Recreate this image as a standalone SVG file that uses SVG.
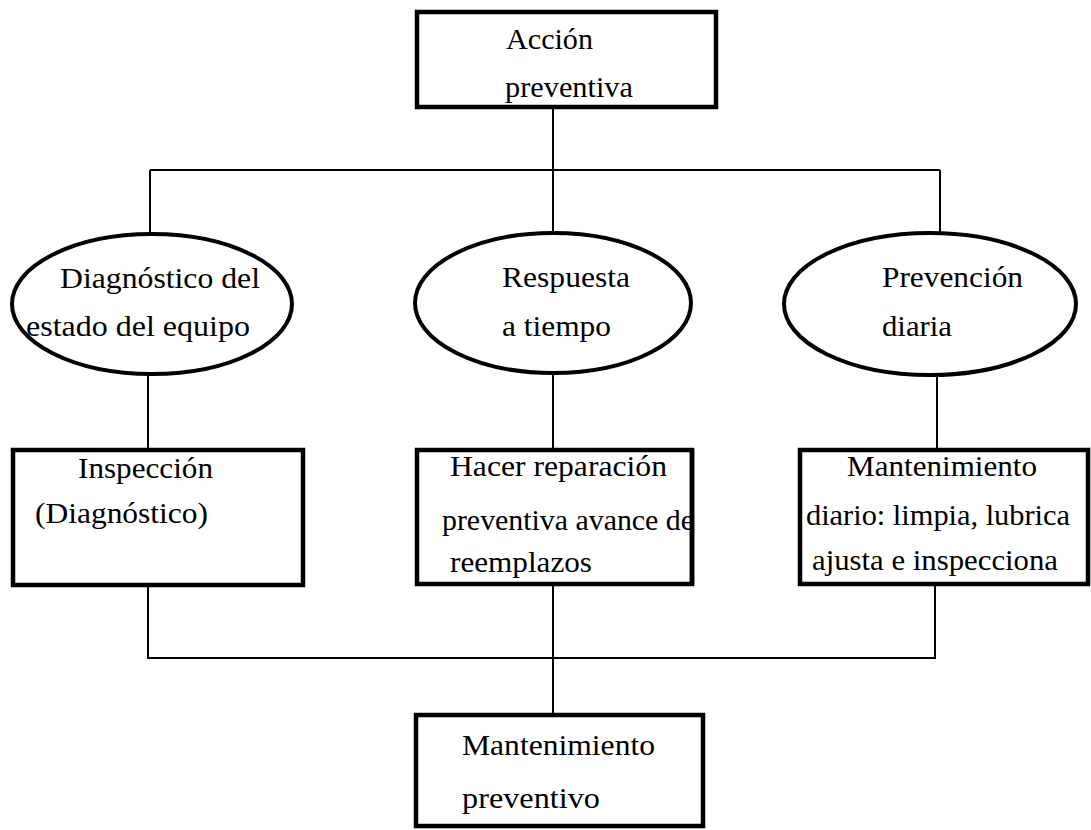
<svg xmlns="http://www.w3.org/2000/svg" width="1091" height="830" viewBox="0 0 1091 830">
  <style>
    .box { fill: #fff; stroke: #000; stroke-width: 4.5; }
    .oval { fill: #fff; stroke: #000; stroke-width: 4; }
    .wire { fill: none; stroke: #000; stroke-width: 2; }
    .edge { fill: none; stroke: #000; stroke-width: 4.5; }
    text { font-family: "Liberation Serif", "Times New Roman", serif; font-size: 30px; fill: #000; }
  </style>
  <rect width="1091" height="830" fill="#fff"/>

  <!-- connectors -->
  <g id="connectors">
    <path class="wire" d="M553,107 V170 M150,170 H940 M150,170 V234 M553,170 V233 M940,170 V234"/>
    <path class="wire" d="M148,374 V450 M553,373 V450 M937,375 V450"/>
    <path class="wire" d="M148,585 V658 H935 V584 M553,584 V715"/>
  </g>

  <!-- top action -->
  <g id="accion-preventiva">
    <rect class="box" x="417" y="12" width="299" height="95"/>
    <text x="506" y="49" textLength="87" lengthAdjust="spacingAndGlyphs">Acción</text>
    <text x="505" y="97" textLength="128" lengthAdjust="spacingAndGlyphs">preventiva</text>
  </g>

  <!-- approaches -->
  <g id="diagnostico-estado">
    <ellipse class="oval" cx="152" cy="304" rx="140" ry="70"/>
    <text x="60" y="288" textLength="200" lengthAdjust="spacingAndGlyphs">Diagnóstico del</text>
    <text x="26" y="336" textLength="224" lengthAdjust="spacingAndGlyphs">estado del equipo</text>
  </g>
  <g id="respuesta-tiempo">
    <ellipse class="oval" cx="553" cy="303" rx="138" ry="70"/>
    <text x="502" y="287" textLength="128" lengthAdjust="spacingAndGlyphs">Respuesta</text>
    <text x="502" y="336" textLength="109" lengthAdjust="spacingAndGlyphs">a tiempo</text>
  </g>
  <g id="prevencion-diaria">
    <ellipse class="oval" cx="930" cy="304" rx="146" ry="71"/>
    <text x="882" y="287" textLength="141" lengthAdjust="spacingAndGlyphs">Prevención</text>
    <text x="882" y="336" textLength="70" lengthAdjust="spacingAndGlyphs">diaria</text>
  </g>

  <!-- activities -->
  <g id="inspeccion">
    <rect class="box" x="13" y="450" width="290" height="135"/>
    <text x="78" y="478" textLength="135" lengthAdjust="spacingAndGlyphs">Inspección</text>
    <text x="35" y="523" textLength="173" lengthAdjust="spacingAndGlyphs">(Diagnóstico)</text>
  </g>
  <g id="reparacion-preventiva">
    <rect class="box" x="417" y="450" width="275" height="134"/>
    <text x="450" y="476" textLength="217" lengthAdjust="spacingAndGlyphs">Hacer reparación</text>
    <text x="442" y="530" textLength="252" lengthAdjust="spacingAndGlyphs">preventiva avance de</text>
    <text x="450" y="572" textLength="142" lengthAdjust="spacingAndGlyphs">reemplazos</text>
    <path class="edge" d="M692,450 V584"/>
  </g>
  <g id="mantenimiento-diario">
    <rect class="box" x="800" y="450" width="288" height="134"/>
    <text x="847" y="476" textLength="190" lengthAdjust="spacingAndGlyphs">Mantenimiento</text>
    <text x="806" y="525" textLength="264" lengthAdjust="spacingAndGlyphs">diario: limpia, lubrica</text>
    <text x="812" y="570" textLength="246" lengthAdjust="spacingAndGlyphs">ajusta e inspecciona</text>
  </g>

  <!-- result -->
  <g id="mantenimiento-preventivo">
    <rect class="box" x="416" y="715" width="287" height="111"/>
    <text x="462" y="755" textLength="193" lengthAdjust="spacingAndGlyphs">Mantenimiento</text>
    <text x="462" y="808" textLength="138" lengthAdjust="spacingAndGlyphs">preventivo</text>
  </g>
</svg>
